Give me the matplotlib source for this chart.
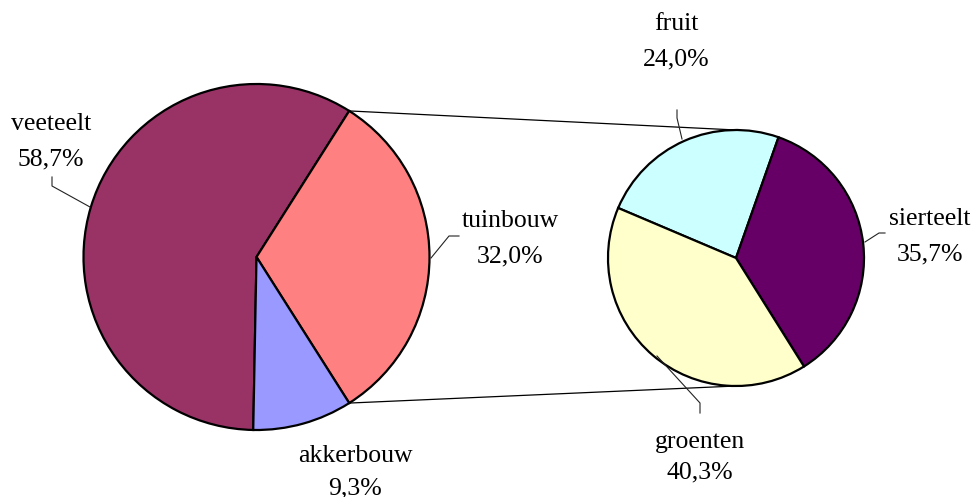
import numpy as np
import matplotlib.pyplot as plt

# main pie
main_labels = ["veeteelt", "tuinbouw", "akkerbouw"]
main_values = [58.7, 32.0, 9.3]
main_colors = ["#993366", "#FF8080", "#9999FF"]

# split of tuinbouw
sub_labels = ["fruit", "sierteelt", "groenten"]
sub_values = [24.0, 35.7, 40.3]
sub_colors = ["#CCFFFF", "#660066", "#FFFFCC"]

W, H = 976, 497
plt.rcParams['font.family'] = ['Liberation Serif', 'DejaVu Serif']

fig = plt.figure(figsize=(W / 100, H / 100), dpi=100)
ax = fig.add_axes([0, 0, 1, 1])

def Y(py):
    return H - py

c1, r1 = (256.5, Y(257)), 173
c2, r2 = (736, Y(258)), 128
edge = dict(edgecolor="black", linewidth=1.6)

# tuinbouw wedge is centred on the right side
half = main_values[1] * 3.6 / 2
ax.pie(main_values, colors=main_colors, startangle=half + main_values[0] * 3.6,
       counterclock=False, center=c1, radius=r1, wedgeprops=edge)
ax.pie(sub_values, colors=sub_colors, startangle=157, counterclock=False,
       center=c2, radius=r2, wedgeprops=edge)

# connector lines from the tuinbouw wedge to the second pie
top = (c1[0] + r1 * np.cos(np.radians(half)), c1[1] + r1 * np.sin(np.radians(half)))
bot = (c1[0] + r1 * np.cos(np.radians(-half)), c1[1] + r1 * np.sin(np.radians(-half)))
ax.plot([top[0], c2[0]], [top[1], c2[1] + r2], color="black", lw=0.9, zorder=0)
ax.plot([bot[0], c2[0]], [bot[1], c2[1] - r2], color="black", lw=0.9, zorder=0)

# labels: centre x, baseline of first line, gap to second line
label_pos = {
    "veeteelt": (51, 130, 35),
    "tuinbouw": (510, 227, 35),
    "akkerbouw": (355, 462, 32),
    "fruit": (676, 30, 35),
    "sierteelt": (930, 225, 35),
    "groenten": (700, 448, 30),
}
pcts = dict(zip(main_labels + sub_labels, main_values + sub_values))
for name, (x, yb, gap) in label_pos.items():
    pct = f"{pcts[name]:.1f}%".replace(".", ",")
    ax.text(x, Y(yb), name, ha="center", va="baseline", fontsize=18.5)
    ax.text(x, Y(yb + gap), pct, ha="center", va="baseline", fontsize=18.5)

# leader lines
leaders = [
    [(52, 177), (52, 186), (90, 207)],
    [(459, 236), (449, 236), (431, 258)],
    [(677, 110), (677, 118), (682, 139)],
    [(885, 233), (879, 233), (865, 242)],
    [(700, 413), (700, 403), (657, 356)],
]
for pts in leaders:
    xs = [p[0] for p in pts]
    ys = [Y(p[1]) for p in pts]
    ax.plot(xs, ys, color="#222222", lw=0.8)

ax.set_xlim(0, W)
ax.set_ylim(0, H)
ax.set_aspect("equal")
ax.axis("off")

fig.savefig("out.png", dpi=100)
